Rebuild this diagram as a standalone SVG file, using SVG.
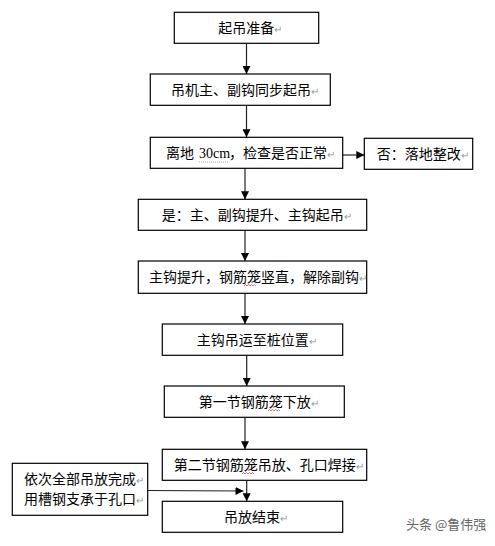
<svg xmlns="http://www.w3.org/2000/svg" width="495" height="546" viewBox="0 0 495 546">
<defs>
<marker id="ah" markerWidth="8" markerHeight="8" refX="8" refY="4" orient="auto" markerUnits="userSpaceOnUse">
<path d="M0,0 L8,4 L0,8 Z" fill="#000"/>
</marker>
<style>
.box{fill:#fff;stroke:#000;stroke-width:1.2}
.t{font-family:"Noto Sans CJK SC","Liberation Sans",sans-serif;font-size:14px;fill:#000}
.s{font-family:"Liberation Serif",serif;font-size:14px}
.p{fill:#999;font-size:10px}
.c{stroke:#222;stroke-width:1.2;fill:none;marker-end:url(#ah)}
.w{fill:none;stroke:#e03030;stroke-width:0.7}
</style>
</defs>
<rect width="495" height="546" fill="#fff"/>
<g id="connectors">
<line class="c" x1="246.5" y1="43.3" x2="246.5" y2="74"/>
<line class="c" x1="246.5" y1="105.3" x2="246.5" y2="137.3"/>
<line class="c" x1="342.7" y1="155" x2="364.3" y2="155"/>
<line class="c" x1="245" y1="168.3" x2="245" y2="199.3"/>
<line class="c" x1="245" y1="230.3" x2="245" y2="261"/>
<line class="c" x1="245" y1="293.3" x2="245" y2="324"/>
<line class="c" x1="246.7" y1="355.3" x2="246.7" y2="386"/>
<line class="c" x1="245" y1="417.3" x2="245" y2="449.3"/>
<line class="c" x1="246.7" y1="480.3" x2="246.7" y2="501.3"/>
<line class="c" x1="147.7" y1="490.5" x2="243.5" y2="491"/>
</g>
<g id="n1"><rect class="box" x="174.3" y="12.3" width="144.4" height="31"/>
<text class="t" x="218.3" y="33">起吊准备<tspan class="p">↵</tspan></text></g>
<g id="n2"><rect class="box" x="150.3" y="74" width="180" height="31.3"/>
<text class="t" x="171" y="95">吊机主、副钩同步起吊<tspan class="p">↵</tspan></text></g>
<g id="n3"><rect class="box" x="150.3" y="137.3" width="192.4" height="31"/>
<text class="t" x="166" y="158">离地 <tspan class="s" x="199">30cm</tspan><tspan x="229">，检查是否正常</tspan><tspan class="p">↵</tspan></text>
<line x1="199" y1="162" x2="229" y2="162" stroke="#888" stroke-width="0.7" stroke-dasharray="1,1"/></g>
<g id="n4"><rect class="box" x="364.3" y="138.3" width="108.4" height="31"/>
<text class="t" x="376.7" y="159">否：落地整改<tspan class="p">↵</tspan></text></g>
<g id="n5"><rect class="box" x="138.3" y="199.3" width="228.4" height="31"/>
<text class="t" x="161.7" y="220">是：主、副钩提升、主钩起吊<tspan class="p">↵</tspan></text></g>
<g id="n6"><rect class="box" x="138.3" y="261" width="228.4" height="32.3"/>
<text class="t" x="149" y="282">主钩提升，钢筋笼竖直，解除副钩<tspan class="p">↵</tspan></text>
<path class="w" d="M244,286 l1.5,-1.5 l1.5,1.5 l1.5,-1.5 l1.5,1.5 l1.5,-1.5 l1.5,1.5 l1.5,-1.5 l1.5,1.5"/></g>
<g id="n7"><rect class="box" x="162.3" y="324" width="180.4" height="31.3"/>
<text class="t" x="196.7" y="345">主钩吊运至桩位置<tspan class="p">↵</tspan></text></g>
<g id="n8"><rect class="box" x="164.3" y="386" width="180" height="31.3"/>
<text class="t" x="198.7" y="407">第一节钢筋笼下放<tspan class="p">↵</tspan></text>
<path class="w" d="M268,411 l1.5,-1.5 l1.5,1.5 l1.5,-1.5 l1.5,1.5 l1.5,-1.5 l1.5,1.5 l1.5,-1.5 l1.5,1.5"/></g>
<g id="n9"><rect class="box" x="162.3" y="449.3" width="204.4" height="31"/>
<text class="t" x="173.7" y="470">第二节钢筋笼吊放、孔口焊接<tspan class="p">↵</tspan></text>
<path class="w" d="M242,474 l1.5,-1.5 l1.5,1.5 l1.5,-1.5 l1.5,1.5 l1.5,-1.5 l1.5,1.5 l1.5,-1.5 l1.5,1.5"/></g>
<g id="n10"><rect class="box" x="162.3" y="501.3" width="180.4" height="31"/>
<text class="t" x="224" y="522">吊放结束<tspan class="p">↵</tspan></text></g>
<g id="n11"><rect class="box" x="12.3" y="463.3" width="135.4" height="52"/>
<text class="t" x="24" y="484">依次全部吊放完成<tspan class="p">↵</tspan></text>
<text class="t" x="24" y="504">用槽钢支承于孔口<tspan class="p">↵</tspan></text></g>
<text x="406" y="529" font-family="Noto Sans CJK SC,sans-serif" font-size="13" fill="#666">头条 @鲁伟强</text>
</svg>
